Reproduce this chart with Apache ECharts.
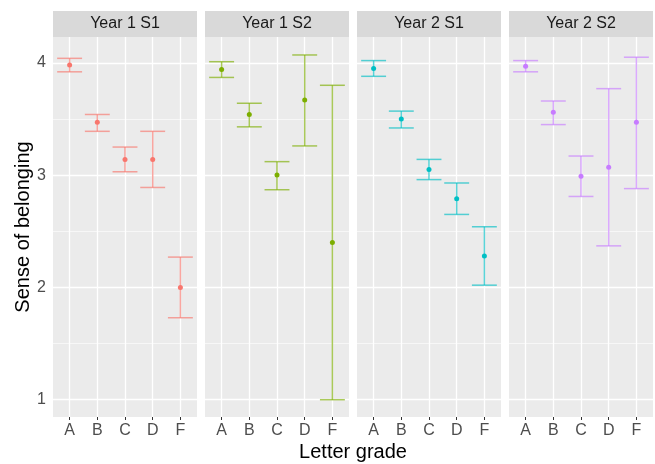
<!DOCTYPE html>
<html><head><meta charset="utf-8">
<script src="https://cdn.jsdelivr.net/npm/echarts@6/dist/echarts.min.js"></script>
<style>html,body{margin:0;padding:0;background:#fff}#c{width:655px;height:464px}</style>
</head><body><div id="c"></div>
<script>
var grades = ['A','B','C','D','F'];
var panels = ['Year 1 S1','Year 1 S2','Year 2 S1','Year 2 S2'];
var colors = ['#F8766D','#7CAE00','#00BFC4','#C77CFF'];
var means = [
  [3.98, 3.47, 3.14, 3.14, 2.00],
  [3.94, 3.54, 3.00, 3.67, 2.40],
  [3.95, 3.50, 3.05, 2.79, 2.28],
  [3.97, 3.56, 2.99, 3.07, 3.47]
];
var lower = [
  [3.92, 3.39, 3.03, 2.89, 1.73],
  [3.87, 3.43, 2.87, 3.26, 1.00],
  [3.88, 3.42, 2.96, 2.65, 2.02],
  [3.92, 3.45, 2.81, 2.37, 2.88]
];
var upper = [
  [4.04, 3.54, 3.25, 3.39, 2.27],
  [4.01, 3.64, 3.12, 4.07, 3.80],
  [4.02, 3.57, 3.14, 2.93, 2.54],
  [4.02, 3.66, 3.17, 3.77, 4.05]
];
var yTicks = [1, 2, 3, 4];
var yMinor = [1.5, 2.5, 3.5];

var panelLeft = [53, 205, 357, 509];
var panelW = 144, panelTop = 37, panelH = 380;
var font = 'Liberation Sans, Arial, sans-serif';

var grids = [], xAxes = [], yAxes = [], series = [], graphics = [];
panels.forEach(function (p, i) {
  grids.push({left: panelLeft[i], top: panelTop, width: panelW, height: panelH,
    show: true, backgroundColor: '#EBEBEB', borderWidth: 0});
  xAxes.push({type: 'value', gridIndex: i, min: -0.6, max: 4.6,
    axisLine: {show: false}, splitLine: {show: false},
    axisTick: {show: true, customValues: [0,1,2,3,4], length: 3, lineStyle: {color: '#333333', width: 1}},
    axisLabel: {show: true, customValues: [0,1,2,3,4], margin: 6, fontSize: 16, color: '#4D4D4D', fontFamily: font,
      formatter: function (v) { return grades[Math.round(v)]; }}
  });
  yAxes.push({type: 'value', gridIndex: i, min: 0.846, max: 4.23,
    axisLine: {show: false}, splitLine: {show: false},
    axisTick: {show: i === 0, customValues: yTicks, length: 3, lineStyle: {color: '#333333', width: 1}},
    axisLabel: {show: i === 0, customValues: yTicks, margin: 7, fontSize: 16, color: '#4D4D4D', fontFamily: font},
    name: i === 0 ? 'Sense of belonging' : '', nameLocation: 'middle', nameGap: 20,
    nameTextStyle: {fontSize: 20, color: '#000', fontFamily: font}
  });
  // gridlines
  var ml = [];
  yMinor.forEach(function (v) { ml.push({yAxis: v, lineStyle: {color: '#FFFFFF', width: 0.6, type: 'solid'}}); });
  yTicks.forEach(function (v) { ml.push({yAxis: v, lineStyle: {color: '#FFFFFF', width: 1.3, type: 'solid'}}); });
  grades.forEach(function (g, k) { ml.push({xAxis: k, lineStyle: {color: '#FFFFFF', width: 1.3, type: 'solid'}}); });
  series.push({type: 'line', xAxisIndex: i, yAxisIndex: i, data: [], silent: true, z: 1,
    markLine: {silent: true, z: 1, zlevel: 0, symbol: ['none','none'], label: {show: false}, animation: false, data: ml}});
  // error bars
  var ebData = grades.map(function (g, k) { return [k, lower[i][k], upper[i][k]]; });
  series.push({type: 'custom', xAxisIndex: i, yAxisIndex: i, z: 10, data: ebData,
    renderItem: function (params, api) {
      var x = api.value(0);
      var lo = api.coord([x, api.value(1)]);
      var hi = api.coord([x, api.value(2)]);
      var hw = api.size([0.9, 0])[0] / 2;
      var st = {stroke: colors[i], lineWidth: 1.5, opacity: 0.65};
      return {type: 'group', children: [
        {type: 'line', shape: {x1: hi[0], y1: hi[1], x2: lo[0], y2: lo[1]}, style: st},
        {type: 'line', shape: {x1: hi[0]-hw, y1: hi[1], x2: hi[0]+hw, y2: hi[1]}, style: st},
        {type: 'line', shape: {x1: lo[0]-hw, y1: lo[1], x2: lo[0]+hw, y2: lo[1]}, style: st}
      ]};
    }
  });
  // means
  series.push({type: 'scatter', xAxisIndex: i, yAxisIndex: i, z: 11, symbolSize: 5,
    itemStyle: {color: colors[i], opacity: 1},
    data: grades.map(function (g, k) { return [k, means[i][k]]; })});
  // strip
  graphics.push({type: 'rect', left: panelLeft[i], top: 11, shape: {width: panelW, height: 26},
    style: {fill: '#D9D9D9'}});
  graphics.push({type: 'text', x: panelLeft[i] + panelW / 2, y: 24,
    style: {text: p, fontSize: 16, fill: '#1A1A1A', fontFamily: font, align: 'center', verticalAlign: 'middle'}});
});
graphics.push({type: 'text', x: 353, y: 452,
  style: {text: 'Letter grade', fontSize: 20, fill: '#000', fontFamily: font, align: 'center', verticalAlign: 'middle'}});

var chart = echarts.init(document.getElementById('c'), null, {renderer: 'canvas'});
chart.setOption({
  animation: false,
  backgroundColor: '#FFFFFF',
  grid: grids, xAxis: xAxes, yAxis: yAxes, series: series, graphic: graphics
});
</script></body></html>
